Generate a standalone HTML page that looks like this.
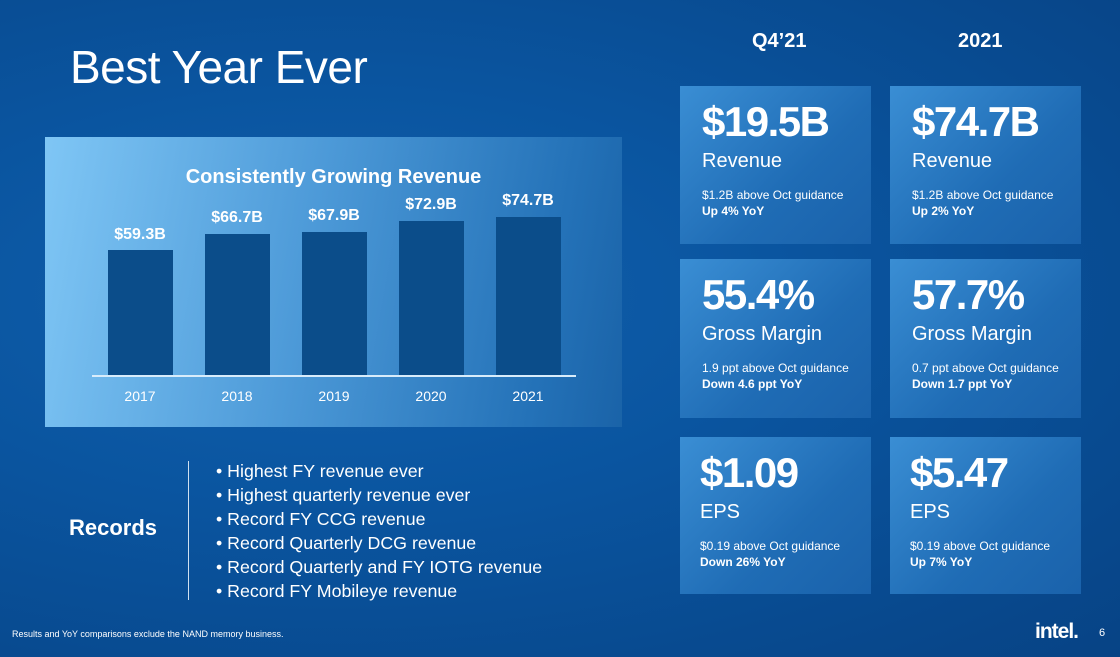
<!DOCTYPE html>
<html><head><style>
*{margin:0;padding:0;box-sizing:border-box}
body{width:1120px;height:657px;overflow:hidden;position:relative;font-family:"Liberation Sans",sans-serif;color:#fff;
background:radial-gradient(ellipse at 30% 45%,#1260ad 0%,#0a55a0 40%,#074385 100%);}
.abs{position:absolute}
h1{position:absolute;left:70px;top:40px;font-size:46px;font-weight:normal;letter-spacing:-0.5px}
.panel{left:45px;top:137px;width:577px;height:290px;background:linear-gradient(100deg,#7fc6f5 0%,#4d9ad8 45%,#2472b8 85%,#1a63a8 100%)}
.bar{position:absolute;background:#0b4d8a;width:65px}
.val{position:absolute;width:100px;text-align:center;font-size:16px;font-weight:bold}
.yr{position:absolute;width:100px;text-align:center;font-size:14px;top:388px}
.card{position:absolute;width:191px;background:linear-gradient(135deg,#3a8ed4 0%,#1f6cb5 60%,#1a62ab 100%);padding-left:22px}
.big{font-size:42px;font-weight:bold;letter-spacing:-1.5px;margin-top:12px;line-height:48px}
.lab{font-size:20px;margin-top:4px}
.sm{font-size:12px;margin-top:14px;line-height:16px}
.hd{position:absolute;top:30px;font-size:20px;font-weight:bold}
li{list-style:none;font-size:17.8px;line-height:24px}
</style></head><body>
<h1>Best Year Ever</h1>
<div class="abs panel"></div>
<div class="abs" style="left:45px;width:577px;top:166px;text-align:center;font-size:20px;font-weight:bold">Consistently Growing Revenue</div>
<div class="bar" style="left:108px;top:250px;height:126px"></div>
<div class="bar" style="left:205px;top:234px;height:142px"></div>
<div class="bar" style="left:302px;top:232px;height:144px"></div>
<div class="bar" style="left:399px;top:221px;height:155px"></div>
<div class="bar" style="left:496px;top:217px;height:159px"></div>
<div class="abs" style="left:92px;top:375px;width:484px;height:2px;background:#d8ecfb"></div>
<div class="val" style="left:90px;top:226px">$59.3B</div>
<div class="val" style="left:187px;top:209px">$66.7B</div>
<div class="val" style="left:284px;top:207px">$67.9B</div>
<div class="val" style="left:381px;top:196px">$72.9B</div>
<div class="val" style="left:478px;top:192px">$74.7B</div>
<div class="yr" style="left:90px">2017</div><div class="yr" style="left:187px">2018</div><div class="yr" style="left:284px">2019</div><div class="yr" style="left:381px">2020</div><div class="yr" style="left:478px">2021</div>
<div class="abs" style="left:69px;top:515px;font-size:22px;font-weight:bold">Records</div>
<div class="abs" style="left:188px;top:461px;width:1px;height:139px;background:#cfe0f0"></div>
<ul class="abs" style="left:216px;top:459px">
<li>• Highest FY revenue ever</li><li>• Highest quarterly revenue ever</li><li>• Record FY CCG revenue</li><li>• Record Quarterly DCG revenue</li><li>• Record Quarterly and FY IOTG revenue</li><li>• Record FY Mobileye revenue</li></ul>
<div class="abs" style="left:12px;top:629px;font-size:9px">Results and YoY comparisons exclude the NAND memory business.</div>
<div class="abs" style="left:1035px;top:620px;font-size:21px;font-weight:bold;letter-spacing:-1px">intel.</div>
<div class="abs" style="left:1099px;top:627px;font-size:11px">6</div>
<div class="hd" style="left:752px">Q4’21</div>
<div class="hd" style="left:958px">2021</div>
<div class="card" style="left:680px;top:86px;height:158px"><div class="big">$19.5B</div><div class="lab">Revenue</div><div class="sm">$1.2B above Oct guidance<br><b>Up 4% YoY</b></div></div>
<div class="card" style="left:890px;top:86px;height:158px"><div class="big">$74.7B</div><div class="lab">Revenue</div><div class="sm">$1.2B above Oct guidance<br><b>Up 2% YoY</b></div></div>
<div class="card" style="left:680px;top:259px;height:159px"><div class="big">55.4%</div><div class="lab">Gross Margin</div><div class="sm">1.9 ppt above Oct guidance<br><b>Down 4.6 ppt YoY</b></div></div>
<div class="card" style="left:890px;top:259px;height:159px"><div class="big">57.7%</div><div class="lab">Gross Margin</div><div class="sm">0.7 ppt above Oct guidance<br><b>Down 1.7 ppt YoY</b></div></div>
<div class="card" style="left:680px;top:437px;height:157px;padding-left:20px"><div class="big">$1.09</div><div class="lab">EPS</div><div class="sm">$0.19 above Oct guidance<br><b>Down 26% YoY</b></div></div>
<div class="card" style="left:890px;top:437px;height:157px;padding-left:20px"><div class="big">$5.47</div><div class="lab">EPS</div><div class="sm">$0.19 above Oct guidance<br><b>Up 7% YoY</b></div></div>
</body></html>
